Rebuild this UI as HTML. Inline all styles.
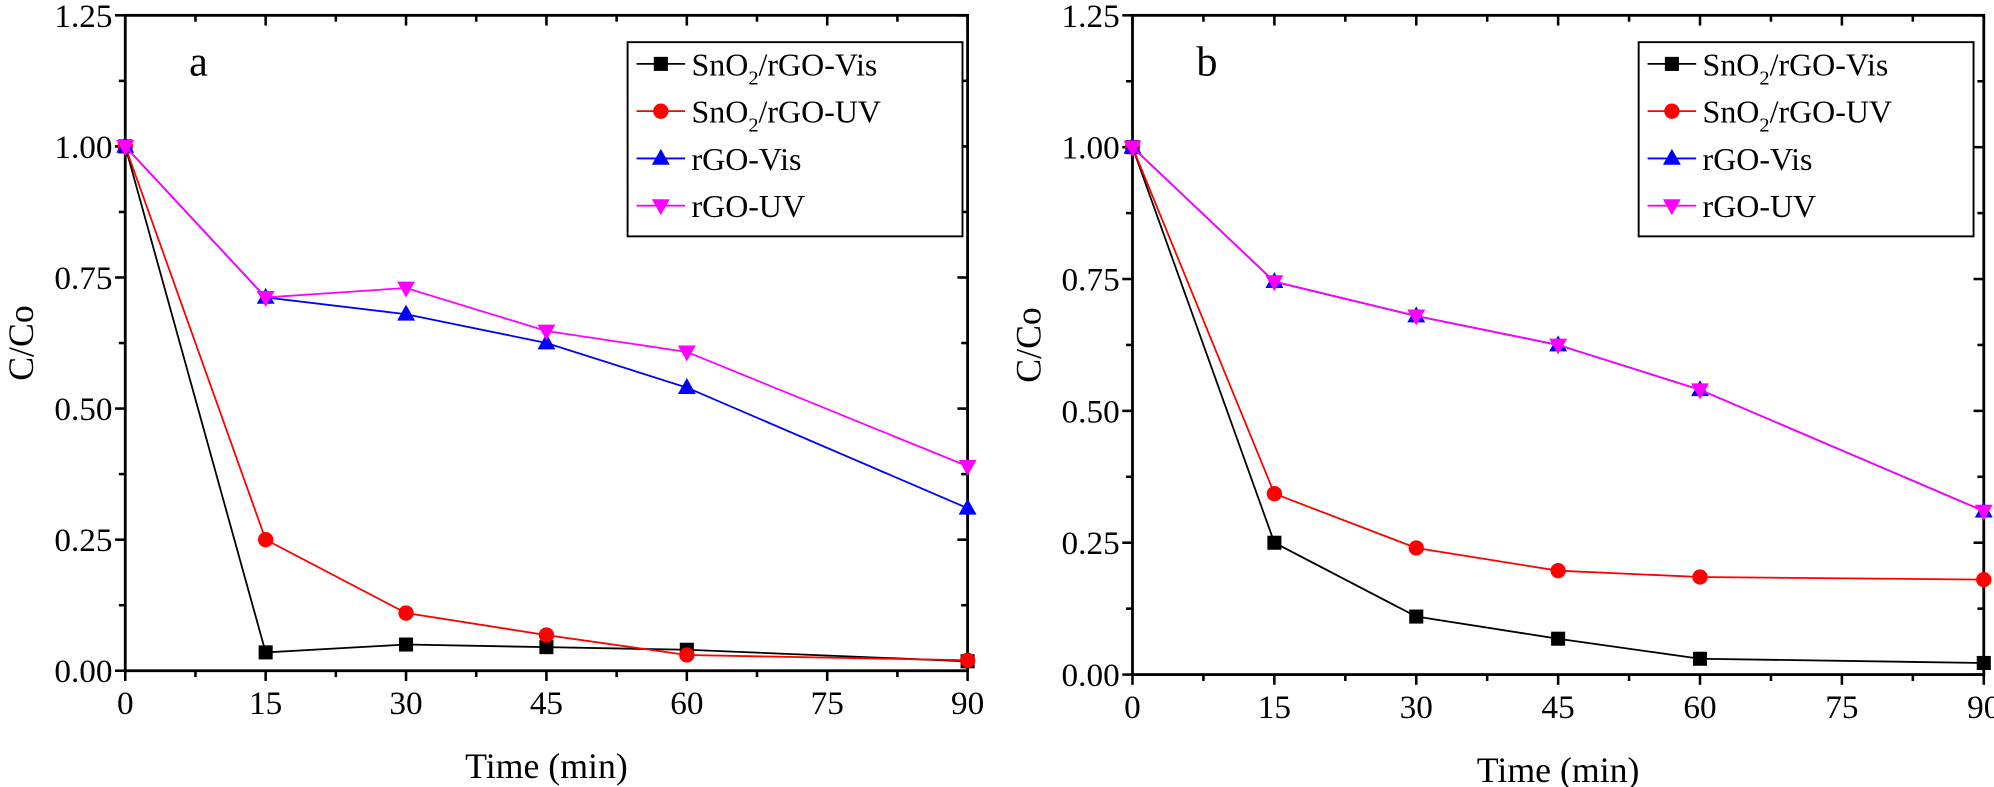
<!DOCTYPE html>
<html><head><meta charset="utf-8"><style>
html,body{margin:0;padding:0;background:#fff;}
svg{display:block;}
text{font-family:"Liberation Serif",serif;fill:#000;}
</style></head><body>
<svg id="s" width="1994" height="787" viewBox="0 0 1560 616" preserveAspectRatio="none" xmlns="http://www.w3.org/2000/svg"></svg>
<script>
const S=document.getElementById('s');let h='';
function panel(x0,x1,y0,ytop,lab,data,lx){
 const sx=t=>x0+(x1-x0)*t/90, sy=v=>y0-(y0-ytop)*v/1.25;
 h+=`<rect x="${x0}" y="${ytop}" width="${x1-x0}" height="${y0-ytop}" fill="none" stroke="#000" stroke-width="2.2"/>`;
 for(let i=0;i<=12;i++){const t=i*7.5,x=sx(t),L=i%2?5:8;
  h+=`<line x1="${x}" y1="${y0}" x2="${x}" y2="${y0+L}" stroke="#000" stroke-width="2"/>`;
  h+=`<line x1="${x}" y1="${ytop}" x2="${x}" y2="${ytop+L}" stroke="#000" stroke-width="2"/>`;
  if(i%2==0) h+=`<text x="${x}" y="${y0+34}" font-size="26" text-anchor="middle">${t}</text>`;}
 for(let i=0;i<=10;i++){const v=i*0.125,y=sy(v),L=i%2?5:8;
  h+=`<line x1="${x0}" y1="${y}" x2="${x0-L}" y2="${y}" stroke="#000" stroke-width="2"/>`;
  h+=`<line x1="${x1}" y1="${y}" x2="${x1-L}" y2="${y}" stroke="#000" stroke-width="2"/>`;
  if(i%2==0) h+=`<text x="${x0-10}" y="${y+9}" font-size="26" text-anchor="end">${v.toFixed(2)}</text>`;}
 h+=`<text x="${(x0+x1)/2}" y="${y0+84}" font-size="28" text-anchor="middle">Time (min)</text>`;
 h+=`<text transform="translate(${x0-72},${(y0+ytop)/2}) rotate(-90)" font-size="28" text-anchor="middle">C/Co</text>`;
 h+=`<text x="${x0+50}" y="${ytop+47}" font-size="33">${lab}</text>`;
 const T=[0,15,30,45,60,90];
 data.forEach(d=>{
  h+=`<polyline fill="none" stroke="${d.c}" stroke-width="1.4" points="${T.map((t,i)=>sx(t)+','+sy(d.v[i])).join(' ')}"/>`;
  T.forEach((t,i)=>h+=mk(d.m,sx(t),sy(d.v[i]),d.c));});
 h+=`<rect x="${lx}" y="33" width="262" height="152" fill="#fff" stroke="#000" stroke-width="1.5"/>`;
 const names=['SnO<tspan font-size="16" dy="7">2</tspan><tspan dy="-7">/rGO-Vis</tspan>','SnO<tspan font-size="16" dy="7">2</tspan><tspan dy="-7">/rGO-UV</tspan>','rGO-Vis','rGO-UV'];
 data.forEach((d,i)=>{const y=50+i*37;
  h+=`<line x1="${lx+7}" y1="${y}" x2="${lx+45}" y2="${y}" stroke="${d.c}" stroke-width="1.4"/>`+mk(d.m,lx+26,y,d.c);
  h+=`<text x="${lx+50}" y="${y+9}" font-size="25">${names[i]}</text>`;});
}
function mk(m,x,y,c){
 if(m=='s')return `<rect x="${x-5.5}" y="${y-5.5}" width="11" height="11" fill="${c}"/>`;
 if(m=='c')return `<circle cx="${x}" cy="${y}" r="6" fill="${c}"/>`;
 if(m=='u')return `<polygon points="${x},${y-7.5} ${x-7},${y+5} ${x+7},${y+5}" fill="${c}"/>`;
 return `<polygon points="${x},${y+7.5} ${x-7},${y-5} ${x+7},${y-5}" fill="${c}"/>`;
}
panel(98,757,525,12,'a',[
 {c:'#000',m:'s',v:[1,0.035,0.05,0.045,0.04,0.018]},
 {c:'#f00',m:'c',v:[1,0.25,0.11,0.068,0.03,0.02]},
 {c:'#00f',m:'u',v:[1,0.712,0.68,0.625,0.54,0.31]},
 {c:'#f0f',m:'d',v:[1,0.712,0.73,0.648,0.608,0.39]}],491);
panel(886,1552,528,12,'b',[
 {c:'#000',m:'s',v:[1,0.25,0.11,0.068,0.03,0.022]},
 {c:'#f00',m:'c',v:[1,0.343,0.24,0.197,0.185,0.18]},
 {c:'#00f',m:'u',v:[1,0.745,0.68,0.625,0.54,0.31]},
 {c:'#f0f',m:'d',v:[1,0.745,0.68,0.625,0.54,0.31]}],1282);
S.innerHTML=h;
</script>
</body></html>
